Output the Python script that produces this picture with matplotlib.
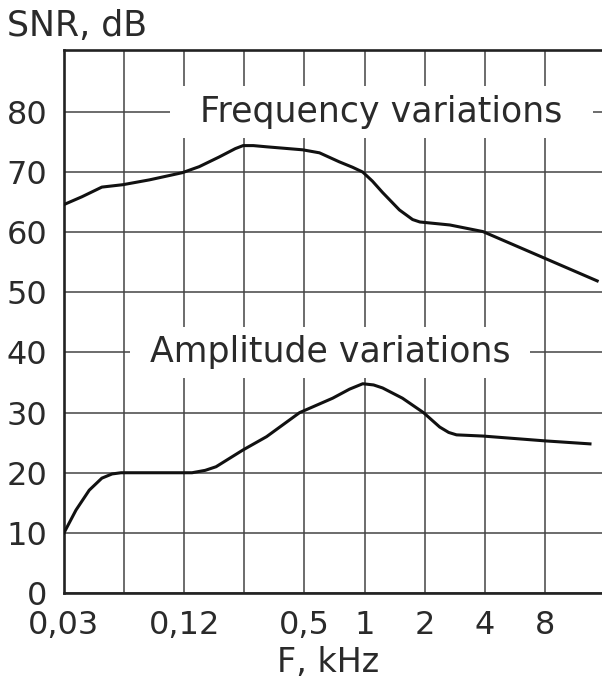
import matplotlib
matplotlib.use('Agg')
import matplotlib.pyplot as plt

# x is measured in octave steps from 0.03 kHz (grid spacing of the chart)
x_ticks = [0, 1, 2, 3, 4, 5, 6, 7, 8]
x_labels = ['0,03', '', '0,12', '', '0,5', '1', '2', '4', '8']
y_ticks = [0, 10, 20, 30, 40, 50, 60, 70, 80]

freq_x = [0.0, 0.3, 0.63, 0.98, 1.42, 1.97, 2.25, 2.58, 2.85, 2.98, 3.15, 3.37,
          3.97, 4.25, 4.58, 4.8, 4.97, 5.13, 5.3, 5.58, 5.8, 5.92, 6.42, 6.97, 8.87]
freq_snr = [64.6, 65.9, 67.5, 67.9, 68.7, 69.9, 70.9, 72.5, 73.9, 74.4, 74.4, 74.2,
            73.7, 73.2, 71.7, 70.8, 70.0, 68.5, 66.6, 63.7, 62.1, 61.7, 61.2, 60.1, 51.9]

amp_x = [0.0, 0.2, 0.42, 0.63, 0.8, 0.95, 2.13, 2.35, 2.53, 2.98, 3.37, 3.92,
         4.47, 4.75, 4.97, 5.15, 5.3, 5.63, 5.98, 6.25, 6.4, 6.53, 6.97, 8.0, 8.75]
amp_snr = [10.0, 13.8, 17.1, 19.1, 19.8, 20.0, 20.0, 20.4, 21.0, 23.8, 26.0, 30.0,
           32.4, 33.9, 34.8, 34.6, 34.1, 32.4, 30.0, 27.6, 26.7, 26.3, 26.1, 25.3, 24.8]

plt.rcParams['font.family'] = 'DejaVu Sans'

fig = plt.figure(figsize=(6.02, 6.81), dpi=100)
ax = fig.add_axes([0.1063, 0.1292, 0.8937, 0.7974])

ax.plot(freq_x, freq_snr, color='#111111', lw=2.2, solid_joinstyle='round', zorder=3)
ax.plot(amp_x, amp_snr, color='#111111', lw=2.2, solid_joinstyle='round', zorder=3)

ax.set_xlim(0, 8.95)
ax.set_ylim(0, 90.3)
ax.set_xticks(x_ticks)
ax.set_xticklabels(x_labels)
ax.set_yticks(y_ticks)
ax.tick_params(length=0, labelsize=23, colors='#2a2a2a')
ax.tick_params(axis='x', pad=12)
ax.tick_params(axis='y', pad=12)
ax.grid(True, color='#444444', lw=1.1, zorder=1)
ax.set_axisbelow(True)

for side in ['top', 'left', 'bottom']:
    ax.spines[side].set_linewidth(1.9)
    ax.spines[side].set_color('#222222')
ax.spines['right'].set_visible(False)

box = dict(facecolor='white', edgecolor='none', boxstyle='square,pad=0.25')
ax.text(5.28, 80, '  Frequency variations  ', fontsize=25, color='#2a2a2a',
        ha='center', va='center', bbox=box, zorder=2)
ax.text(4.43, 40, ' Amplitude variations ', fontsize=25, color='#2a2a2a',
        ha='center', va='center', bbox=box, zorder=2)

fig.text(0.012, 0.962, 'SNR, dB', fontsize=25, color='#2a2a2a', ha='left', va='center')
fig.text(0.545, 0.027, 'F, kHz', fontsize=24, color='#2a2a2a', ha='center', va='center')

fig.savefig('out.png', dpi=100)
